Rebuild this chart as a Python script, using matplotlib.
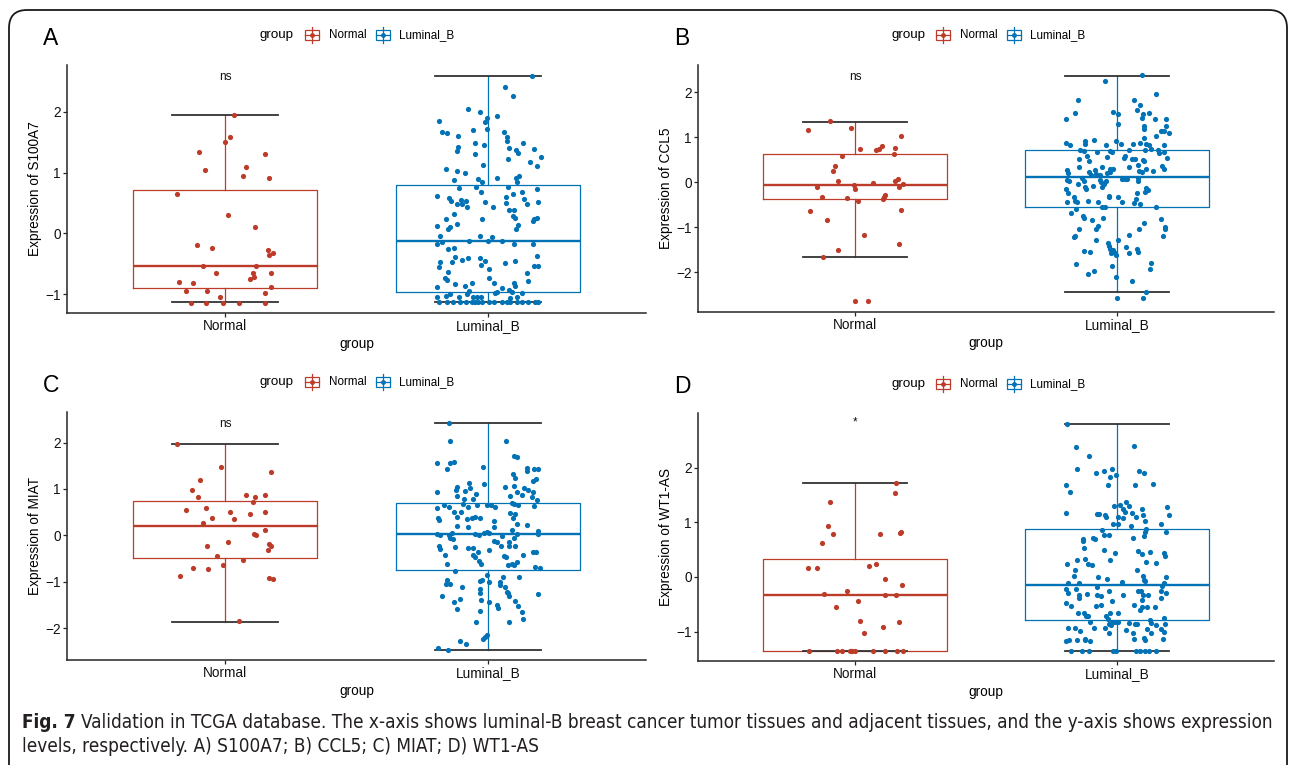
import numpy as np
import matplotlib.pyplot as plt
from matplotlib import font_manager
from matplotlib.patches import FancyBboxPatch, Rectangle
from matplotlib.lines import Line2D

plt.rcParams['font.family'] = ['Liberation Sans', 'DejaVu Sans']

W, H = 1292, 765
RED = '#BC3C29'
BLUE = '#0072B5'
INK = '#262626'

groups = ['Normal', 'Luminal_B']
genes = ['S100A7', 'CCL5', 'MIAT', 'WT1-AS']
letters = ['A', 'B', 'C', 'D']
signif = ['ns', 'ns', 'ns', '*']
signif_y = [2.57, 2.34, 2.41, 2.83]
ylims = [(-1.31, 2.77), (-2.89, 2.61), (-2.69, 2.66), (-1.54, 3.00)]
yticks = [[-1, 0, 1, 2], [-2, -1, 0, 1, 2], [-2, -1, 0, 1, 2], [-1, 0, 1, 2]]

# box stats: whislo, q1, median, q3, whishi
a_box_normal = [-1.13, -0.90, -0.54, 0.71, 1.94]
a_box_lumb = [-1.13, -0.96, -0.13, 0.80, 2.59]
b_box_normal = [-1.66, -0.38, -0.07, 0.63, 1.35]
b_box_lumb = [-2.45, -0.56, 0.12, 0.72, 2.36]
c_box_normal = [-1.86, -0.49, 0.19, 0.74, 1.96]
c_box_lumb = [-2.47, -0.75, 0.02, 0.70, 2.42]
d_box_normal = [-1.36, -1.36, -0.34, 0.33, 1.72]
d_box_lumb = [-1.35, -0.79, -0.14, 0.87, 2.79]

# jittered samples: (x jitter, expression)
a_normal = [(0.034, 1.94), (0.019, 1.59), (-0.001, 1.51), (-0.098, 1.34), (0.152, 1.31),
            (-0.075, 1.04), (0.079, 1.09), (0.067, 0.94), (0.169, 0.91), (-0.181, 0.64),
            (0.011, 0.30), (0.114, 0.10), (-0.105, -0.19), (-0.049, -0.24), (0.162, -0.27),
            (0.169, -0.36), (0.184, -0.33), (-0.085, -0.54), (0.117, -0.53), (-0.032, -0.65),
            (0.105, -0.65), (0.110, -0.72), (0.095, -0.75), (0.176, -0.66), (-0.174, -0.80),
            (-0.123, -0.82), (-0.147, -0.94), (-0.067, -0.94), (0.176, -0.88), (0.152, -0.98),
            (-0.018, -1.05), (-0.127, -1.14), (-0.071, -1.14), (-0.008, -1.14), (0.052, -1.14),
            (0.151, -1.14)]
a_lumb = [(0.167, 2.59), (0.066, 2.41), (0.094, 2.26), (-0.075, 2.04), (-0.029, 2.00),
          (0.035, 1.93), (-0.006, 1.89), (-0.011, 1.83), (-0.186, 1.85), (-0.003, 1.71),
          (-0.176, 1.67), (-0.158, 1.65), (-0.115, 1.61), (-0.058, 1.70), (0.061, 1.67),
          (0.071, 1.59), (0.072, 1.52), (-0.048, 1.48), (-0.015, 1.45), (0.132, 1.48),
          (0.080, 1.40), (-0.115, 1.42), (-0.120, 1.36), (-0.051, 1.31), (0.105, 1.37),
          (0.112, 1.33), (0.176, 1.38), (0.077, 1.23), (0.200, 1.26), (0.160, 1.17),
          (0.185, 1.11), (-0.018, 1.12), (-0.161, 1.06), (-0.119, 1.03), (-0.087, 1.00),
          (0.035, 0.91), (-0.038, 0.89), (-0.025, 0.84), (-0.128, 0.87), (0.105, 0.91),
          (0.119, 0.94), (0.109, 0.84), (-0.109, 0.75), (-0.047, 0.76), (-0.027, 0.68),
          (0.075, 0.76), (0.127, 0.68), (0.185, 0.73), (-0.193, 0.61), (-0.147, 0.59),
          (-0.142, 0.53), (-0.103, 0.55), (-0.084, 0.54), (-0.118, 0.48), (-0.098, 0.49),
          (-0.079, 0.44), (-0.013, 0.51), (0.020, 0.43), (0.068, 0.60), (0.068, 0.50),
          (0.096, 0.65), (0.137, 0.57), (0.147, 0.49), (0.189, 0.51), (0.081, 0.39),
          (0.098, 0.39), (-0.128, 0.32), (-0.160, 0.24), (-0.119, 0.16), (-0.146, 0.10),
          (-0.151, 0.08), (-0.195, 0.12), (-0.022, 0.24), (0.096, 0.29), (0.103, 0.25),
          (0.112, 0.13), (0.105, 0.08), (0.175, 0.24), (0.184, 0.26), (0.171, 0.20),
          (-0.181, -0.04), (-0.195, -0.17), (-0.177, -0.15), (-0.071, -0.13), (-0.030, -0.05),
          (0.001, -0.13), (0.015, -0.06), (0.051, -0.13), (0.100, -0.17), (0.171, -0.17),
          (-0.153, -0.26), (-0.129, -0.24), (-0.124, -0.39), (-0.139, -0.47), (-0.184, -0.47),
          (-0.188, -0.55), (-0.098, -0.44), (-0.077, -0.41), (-0.030, -0.40), (-0.027, -0.52),
          (-0.011, -0.46), (0.003, -0.58), (0.065, -0.49), (0.104, -0.46), (0.184, -0.38),
          (0.174, -0.54), (0.190, -0.54), (-0.153, -0.63), (-0.162, -0.74), (-0.156, -0.76),
          (0.148, -0.65), (0.005, -0.74), (0.024, -0.82), (-0.125, -0.84), (-0.194, -0.88),
          (-0.089, -0.87), (-0.060, -0.81), (-0.072, -0.95), (0.054, -0.90), (0.100, -0.81),
          (0.103, -0.87), (0.080, -0.93), (0.151, -0.78), (0.028, -0.98), (0.035, -0.97),
          (0.091, -0.97), (0.129, -0.98), (-0.196, -1.04), (-0.160, -1.03), (-0.146, -0.99),
          (-0.112, -1.04), (-0.079, -1.00), (-0.056, -1.05), (-0.041, -1.05), (-0.027, -1.05),
          (0.084, -1.06), (0.108, -1.05), (-0.185, -1.13), (-0.155, -1.13), (-0.133, -1.13),
          (-0.106, -1.13), (-0.063, -1.13), (-0.051, -1.13), (-0.038, -1.13), (-0.022, -1.13),
          (0.003, -1.13), (0.023, -1.13), (0.053, -1.13), (0.070, -1.13), (0.085, -1.13),
          (0.108, -1.13), (0.129, -1.13), (0.152, -1.13), (0.179, -1.13), (0.191, -1.13),
          (-0.084, -1.13)]

b_normal = [(-0.097, 1.36), (-0.179, 1.17), (-0.015, 1.20), (0.176, 1.04), (0.019, 0.74),
            (0.078, 0.71), (0.090, 0.73), (0.104, 0.81), (0.153, 0.76), (-0.050, 0.59),
            (0.150, 0.62), (-0.075, 0.36), (-0.083, 0.24), (-0.067, 0.02), (0.153, 0.03),
            (0.162, 0.07), (-0.146, -0.11), (-0.006, -0.07), (-0.001, -0.15), (0.070, -0.01),
            (0.168, -0.10), (0.182, -0.05), (-0.126, -0.33), (-0.032, -0.36), (0.011, -0.42),
            (0.108, -0.37), (0.115, -0.28), (0.111, -0.33), (-0.172, -0.65), (0.176, -0.62),
            (-0.106, -0.85), (0.034, -1.18), (0.168, -1.37), (-0.065, -1.51), (-0.121, -1.67),
            (-0.001, -2.64), (0.050, -2.64)]
b_lumb = [(0.095, 2.38), (-0.047, 2.26), (0.148, 1.96), (-0.149, 1.83), (0.066, 1.83),
          (0.089, 1.71), (-0.193, 1.41), (-0.159, 1.54), (-0.015, 1.57), (0.003, 1.52),
          (0.004, 1.30), (0.078, 1.60), (0.101, 1.51), (0.123, 1.54), (0.097, 1.43),
          (0.103, 1.26), (0.103, 1.19), (0.145, 1.40), (0.187, 1.41), (0.188, 1.26),
          (0.170, 1.14), (0.181, 1.15), (0.200, 1.10), (0.104, 0.99), (0.151, 1.02),
          (-0.195, 0.87), (-0.178, 0.83), (-0.120, 0.91), (-0.122, 0.84), (-0.089, 0.94),
          (-0.005, 0.91), (0.014, 0.85), (-0.042, 0.83), (0.062, 0.84), (0.089, 0.87),
          (0.111, 0.86), (0.122, 0.82), (0.179, 0.83), (-0.142, 0.71), (-0.126, 0.70),
          (-0.076, 0.68), (-0.027, 0.69), (-0.018, 0.67), (0.048, 0.71), (0.107, 0.71),
          (0.131, 0.74), (0.156, 0.72), (0.162, 0.64), (0.181, 0.67), (-0.146, 0.52),
          (-0.114, 0.58), (-0.107, 0.48), (-0.036, 0.56), (0.028, 0.54), (0.032, 0.58),
          (0.057, 0.51), (0.071, 0.51), (0.101, 0.49), (0.104, 0.47), (0.190, 0.53),
          (-0.146, 0.33), (-0.057, 0.34), (-0.084, 0.28), (-0.028, 0.30), (-0.014, 0.29),
          (0.045, 0.33), (0.080, 0.38), (0.111, 0.30), (0.139, 0.26), (0.173, 0.36),
          (0.178, 0.30), (-0.190, 0.27), (-0.188, 0.20), (-0.108, 0.22), (-0.065, 0.16),
          (-0.079, 0.19), (-0.037, 0.21), (-0.027, 0.23), (0.085, 0.25), (0.097, 0.22),
          (-0.191, 0.05), (-0.183, 0.02), (-0.132, 0.10), (-0.127, 0.02), (-0.099, 0.16),
          (-0.064, 0.04), (-0.059, 0.00), (-0.043, 0.03), (0.018, 0.08), (0.031, 0.07),
          (0.037, 0.08), (0.079, 0.09), (0.080, 0.02), (-0.150, -0.05), (-0.123, -0.10),
          (-0.092, -0.09), (-0.057, -0.10), (-0.048, -0.05), (-0.196, -0.16), (-0.186, -0.23),
          (-0.162, -0.33), (-0.159, -0.41), (-0.117, -0.15), (-0.111, -0.41), (-0.074, -0.45),
          (-0.029, -0.30), (-0.029, -0.34), (0.004, -0.32), (0.020, -0.45), (0.111, -0.13),
          (0.120, -0.17), (0.107, -0.21), (0.078, -0.25), (0.074, -0.37), (0.066, -0.47),
          (0.090, -0.48), (-0.191, -0.45), (-0.154, -0.45), (-0.156, -0.59), (-0.177, -0.68),
          (-0.057, -0.56), (-0.047, -0.56), (0.148, -0.55), (-0.129, -0.76), (-0.126, -0.80),
          (-0.097, -0.85), (-0.053, -0.79), (-0.071, -0.97), (-0.079, -1.04), (-0.144, -1.04),
          (-0.164, -1.23), (-0.159, -1.20), (-0.081, -1.28), (0.006, -1.28), (-0.034, -1.36),
          (-0.030, -1.41), (-0.025, -1.48), (-0.015, -1.51), (-0.009, -1.57), (-0.022, -1.57),
          (-0.005, -1.63), (0.034, -1.45), (0.046, -1.57), (0.075, -1.49), (0.079, -1.56),
          (0.103, -0.91), (0.084, -1.05), (0.046, -1.18), (0.167, -0.83), (0.183, -0.99),
          (0.185, -1.04), (0.177, -1.20), (-0.127, -1.54), (-0.103, -1.56), (-0.155, -1.83),
          (-0.109, -2.05), (-0.089, -1.98), (-0.019, -1.86), (-0.003, -2.10), (0.057, -2.21),
          (0.130, -1.80), (0.127, -1.94), (0.112, -2.45), (0.000, -2.57), (0.099, -2.57)]

c_normal = [(-0.182, 1.96), (-0.016, 1.48), (-0.096, 1.20), (0.177, 1.36), (-0.124, 0.97),
            (-0.104, 0.83), (0.081, 0.87), (0.116, 0.83), (0.154, 0.87), (0.106, 0.72),
            (-0.146, 0.55), (-0.073, 0.58), (0.020, 0.50), (0.096, 0.46), (0.154, 0.50),
            (-0.050, 0.38), (0.036, 0.35), (-0.084, 0.26), (0.110, 0.03), (0.118, 0.01),
            (0.152, 0.11), (-0.068, -0.24), (0.012, -0.14), (0.169, -0.19), (0.175, -0.24),
            (0.165, -0.31), (-0.030, -0.45), (0.068, -0.54), (-0.006, -0.64), (-0.121, -0.71),
            (-0.065, -0.73), (-0.172, -0.87), (0.168, -0.93), (0.183, -0.95), (0.053, -1.85)]
c_lumb = [(-0.150, 2.42), (-0.146, 2.04), (0.068, 2.04), (0.099, 1.71), (0.108, 1.68),
          (-0.194, 1.57), (-0.144, 1.56), (-0.131, 1.58), (-0.158, 1.44), (-0.019, 1.47),
          (0.146, 1.45), (0.148, 1.38), (0.174, 1.44), (0.190, 1.42), (0.094, 1.32),
          (0.104, 1.23), (0.169, 1.17), (0.181, 1.21), (-0.074, 1.13), (-0.014, 1.11),
          (-0.117, 1.04), (0.066, 1.05), (0.097, 1.07), (0.137, 1.03), (-0.195, 0.93),
          (-0.123, 0.97), (-0.089, 0.96), (-0.070, 1.02), (0.109, 0.94), (0.150, 0.98),
          (0.172, 0.94), (-0.120, 0.84), (-0.092, 0.78), (-0.046, 0.89), (-0.058, 0.78),
          (0.085, 0.85), (0.127, 0.86), (0.166, 0.82), (0.185, 0.76), (-0.166, 0.66),
          (-0.150, 0.61), (-0.194, 0.59), (-0.096, 0.68), (-0.077, 0.60), (-0.041, 0.65),
          (-0.004, 0.65), (0.011, 0.65), (0.027, 0.61), (0.090, 0.70), (0.100, 0.68),
          (0.115, 0.66), (0.174, 0.63), (-0.129, 0.51), (-0.104, 0.50), (-0.190, 0.37),
          (-0.186, 0.32), (-0.120, 0.40), (-0.079, 0.35), (-0.061, 0.38), (-0.048, 0.40),
          (-0.029, 0.37), (0.084, 0.48), (0.101, 0.46), (0.095, 0.37), (0.023, 0.30),
          (-0.119, 0.21), (-0.075, 0.18), (0.108, 0.24), (0.149, 0.22), (-0.195, 0.02),
          (-0.181, 0.01), (-0.148, 0.01), (-0.139, 0.04), (-0.048, 0.02), (-0.034, 0.01),
          (-0.014, 0.06), (-0.006, 0.08), (0.005, 0.06), (0.023, 0.17), (0.053, -0.01),
          (0.090, 0.11), (0.108, 0.02), (0.190, 0.09), (0.189, 0.02), (-0.146, -0.06),
          (-0.133, -0.07), (-0.127, -0.26), (-0.186, -0.23), (-0.181, -0.30), (-0.077, -0.27),
          (-0.058, -0.28), (-0.037, -0.35), (0.005, -0.32), (0.021, -0.13), (0.032, -0.14),
          (0.049, -0.22), (0.079, -0.22), (0.081, -0.14), (0.103, -0.23), (0.098, -0.06),
          (0.132, -0.42), (0.172, -0.35), (0.181, -0.37), (-0.162, -0.43), (-0.056, -0.43),
          (-0.048, -0.46), (-0.033, -0.55), (-0.027, -0.61), (0.060, -0.45), (0.068, -0.46),
          (0.077, -0.64), (0.090, -0.61), (0.100, -0.63), (0.108, -0.57), (-0.155, -0.61),
          (0.179, -0.68), (0.198, -0.71), (-0.127, -0.77), (-0.156, -0.96), (-0.161, -1.06),
          (-0.146, -1.04), (-0.101, -1.12), (-0.029, -0.99), (-0.022, -0.96), (-0.032, -1.16),
          (-0.005, -0.86), (0.004, -1.01), (0.046, -1.00), (0.057, -0.91), (0.044, -1.07),
          (0.063, -1.11), (0.070, -1.22), (0.077, -1.25), (0.079, -1.31), (0.119, -0.91),
          (0.189, -1.27), (-0.177, -1.31), (-0.128, -1.43), (-0.108, -1.37), (-0.117, -1.60),
          (-0.029, -1.25), (-0.028, -1.40), (0.004, -1.43), (0.033, -1.50), (0.036, -1.56),
          (0.103, -1.41), (0.113, -1.53), (0.130, -1.65), (0.132, -1.80), (-0.030, -1.64),
          (-0.047, -1.87), (0.080, -1.87), (-0.019, -2.24), (-0.013, -2.19), (-0.006, -2.15),
          (-0.108, -2.27), (-0.085, -2.35), (-0.191, -2.43), (-0.152, -2.48)]

d_normal = [(0.155, 1.72), (0.152, 1.54), (-0.097, 1.37), (-0.105, 0.93), (-0.083, 0.78),
            (0.096, 0.79), (0.171, 0.80), (0.177, 0.83), (-0.126, 0.62), (-0.180, 0.16),
            (-0.145, 0.16), (0.053, 0.20), (0.080, 0.24), (0.116, -0.04), (0.179, -0.15),
            (-0.120, -0.31), (-0.030, -0.26), (0.113, -0.34), (0.155, -0.34), (0.011, -0.45),
            (-0.073, -0.56), (0.019, -0.80), (0.167, -0.83), (0.108, -0.92), (0.035, -1.02),
            (-0.175, -1.36), (-0.069, -1.36), (-0.049, -1.36), (-0.018, -1.36), (-0.010, -1.36),
            (-0.002, -1.36), (0.069, -1.36), (0.115, -1.36), (0.161, -1.36), (0.182, -1.36)]
d_lumb = [(-0.191, 2.79), (-0.155, 2.37), (0.066, 2.39), (-0.106, 2.21), (-0.154, 1.97),
          (-0.079, 1.91), (-0.048, 1.94), (-0.019, 1.97), (-0.028, 1.83), (-0.003, 1.87),
          (0.084, 1.94), (0.103, 1.91), (-0.195, 1.69), (-0.181, 1.56), (-0.034, 1.68),
          (0.070, 1.69), (0.136, 1.70), (-0.193, 1.17), (-0.013, 1.30), (0.013, 1.31),
          (0.023, 1.25), (0.036, 1.37), (0.045, 1.30), (0.029, 1.19), (0.057, 1.17),
          (0.074, 1.09), (0.097, 1.24), (0.100, 1.14), (0.106, 1.02), (-0.076, 1.15),
          (-0.067, 1.15), (-0.047, 1.13), (-0.041, 1.09), (0.004, 1.09), (0.024, 1.08),
          (-0.015, 0.96), (0.005, 0.96), (0.052, 0.93), (0.112, 0.87), (0.169, 0.96),
          (0.190, 1.28), (0.200, 1.13), (-0.057, 0.85), (-0.050, 0.76), (-0.031, 0.77),
          (-0.130, 0.70), (-0.129, 0.66), (-0.092, 0.72), (-0.084, 0.69), (0.060, 0.72),
          (0.103, 0.75), (0.106, 0.83), (0.188, 0.83), (-0.125, 0.52), (-0.050, 0.49),
          (-0.008, 0.44), (0.079, 0.48), (0.094, 0.41), (0.128, 0.45), (0.179, 0.44),
          (0.182, 0.38), (0.112, 0.28), (0.149, 0.26), (-0.025, 0.31), (-0.191, 0.24),
          (-0.153, 0.30), (-0.120, 0.32), (-0.112, 0.23), (-0.097, 0.22), (-0.160, 0.13),
          (0.075, 0.12), (-0.164, 0.02), (-0.071, 0.00), (-0.037, -0.03), (0.101, 0.01),
          (0.103, -0.05), (0.108, -0.08), (0.187, 0.00), (-0.186, -0.12), (-0.145, -0.12),
          (0.020, -0.10), (0.179, -0.12), (0.172, -0.17), (-0.196, -0.22), (-0.188, -0.29),
          (-0.158, -0.22), (-0.146, -0.34), (-0.144, -0.39), (-0.116, -0.31), (-0.075, -0.19),
          (-0.075, -0.34), (-0.059, -0.35), (-0.029, -0.25), (-0.017, -0.44), (0.024, -0.33),
          (0.080, -0.25), (0.093, -0.26), (0.098, -0.34), (0.094, -0.42), (0.117, -0.33),
          (0.169, -0.26), (0.187, -0.29), (0.167, -0.38), (-0.196, -0.47), (-0.176, -0.53),
          (-0.078, -0.53), (-0.059, -0.52), (0.066, -0.52), (0.087, -0.61), (0.097, -0.55),
          (0.116, -0.55), (0.146, -0.55), (-0.150, -0.67), (-0.125, -0.67), (-0.118, -0.72),
          (-0.111, -0.71), (-0.101, -0.82), (-0.041, -0.72), (-0.025, -0.66), (-0.034, -0.77),
          (-0.018, -0.82), (-0.009, -0.82), (0.005, -0.67), (0.004, -0.82), (-0.022, -0.88),
          (-0.031, -0.87), (0.181, -0.75), (0.183, -0.86), (0.128, -0.79), (0.132, -0.84),
          (0.151, -0.88), (0.170, -0.95), (0.181, -1.00), (0.046, -0.85), (0.070, -0.87),
          (0.078, -0.87), (0.036, -0.98), (0.116, -0.96), (-0.187, -0.93), (-0.160, -0.93),
          (-0.141, -0.99), (-0.088, -0.94), (-0.047, -0.93), (-0.032, -1.02), (0.061, -1.02),
          (0.132, -1.03), (-0.193, -1.17), (-0.183, -1.15), (-0.154, -1.15), (-0.121, -1.13),
          (-0.120, -1.16), (-0.103, -1.17), (0.065, -1.13), (0.102, -1.12), (0.108, -1.15),
          (0.177, -1.14), (-0.176, -1.35), (-0.132, -1.35), (-0.107, -1.35), (-0.015, -1.35),
          (-0.003, -1.35), (0.074, -1.35), (0.090, -1.35), (0.109, -1.35), (0.121, -1.35),
          (0.150, -1.35)]

panels = [
    (a_normal, a_lumb, a_box_normal, a_box_lumb),
    (b_normal, b_lumb, b_box_normal, b_box_lumb),
    (c_normal, c_lumb, c_box_normal, c_box_lumb),
    (d_normal, d_lumb, d_box_normal, d_box_lumb),
]
# axes frames in pixels: left, top, right, bottom
frames = [(67, 65, 646, 313), (698, 65, 1274, 312), (67, 412, 646, 660), (698, 413, 1274, 661)]
legend_y = [35, 35, 382, 384]


def fx(x):
    return x / W


def fy(y):
    return 1 - y / H


fig = plt.figure(figsize=(W / 100, H / 100), dpi=100)

for k in range(4):
    l, t, r, b = frames[k]
    ax = fig.add_axes([fx(l), fy(b), (r - l) / W, (b - t) / H])
    normal, lumb, bn, bl = panels[k]
    stats = []
    for s, lab in zip([bn, bl], groups):
        stats.append(dict(whislo=s[0], q1=s[1], med=s[2], q3=s[3], whishi=s[4], fliers=[], label=lab))
    for i, (st, col) in enumerate(zip(stats, [RED, BLUE])):
        ax.bxp([st], positions=[i + 1], widths=0.7, capwidths=0.4, showfliers=False,
               boxprops=dict(color=col, lw=0.9),
               medianprops=dict(color=col, lw=1.7),
               whiskerprops=dict(color=col, lw=0.9),
               capprops=dict(color='#333333', lw=1.3))
    for i, (pts, col) in enumerate(zip([normal, lumb], [RED, BLUE])):
        arr = np.array(pts)
        ax.scatter(i + 1 + arr[:, 0], arr[:, 1], s=14, color=col, lw=0, zorder=3)

    ax.text(1, signif_y[k], signif[k], ha='center', va='center', fontsize=8.6, color='#111111')
    ax.set_xlim(0.4, 2.6)
    ax.set_ylim(*ylims[k])
    ax.set_xticks([1, 2])
    ax.set_xticklabels(groups)
    ax.set_yticks(yticks[k])
    ax.set_xlabel('group', fontsize=9.8, labelpad=3)
    ax.set_ylabel('Expression of ' + genes[k], fontsize=9.8, labelpad=2)
    for sp in ['top', 'right']:
        ax.spines[sp].set_visible(False)
    for sp in ['left', 'bottom']:
        ax.spines[sp].set_color(INK)
        ax.spines[sp].set_linewidth(1.1)
    ax.tick_params(length=3, width=0.9, color=INK, labelsize=9.8, labelcolor='#111111', pad=1.5)

    # panel letter
    fig.text(fx(l - 24), fy(t - 20), letters[k], fontsize=16.5, ha='left', va='baseline')

    # legend in ggplot style
    yc = legend_y[k]
    fig.text(fx(l + 193), fy(yc), 'group', fontsize=9.6, ha='left', va='center')
    for j, (lab, col) in enumerate(zip(groups, [RED, BLUE])):
        kx = l + [245, 316][j]
        fig.add_artist(Rectangle((fx(kx - 7), fy(yc + 5)), 14 / W, 10 / H, fill=False,
                                 ec=col, lw=0.9))
        fig.add_artist(Line2D([fx(kx), fx(kx)], [fy(yc + 8), fy(yc - 8)], color=col, lw=0.9))
        fig.add_artist(Line2D([fx(kx - 7), fx(kx + 7)], [fy(yc), fy(yc)], color=col, lw=0.9))
        fig.add_artist(Line2D([fx(kx)], [fy(yc)], marker='o', ms=3.5, color=col, mec='none'))
        fig.text(fx(l + [262, 332][j]), fy(yc), lab, fontsize=8.4, ha='left', va='center')

# outer rounded frame
frame = FancyBboxPatch((0.09, -0.3), 12.78, 7.85, boxstyle='round,pad=0,rounding_size=0.18',
                       transform=fig.dpi_scale_trans, fill=False, ec='#1a1a1a', lw=1.3)
fig.add_artist(frame)

# caption, in a condensed face when one is installed
cond = [f for f in font_manager.fontManager.ttflist
        if f.name == 'DejaVu Sans' and str(f.stretch) in ('condensed', '400', 'semi-condensed')]
cap_kw = dict(family='DejaVu Sans', fontstretch='condensed') if cond else dict(family='Open Sans')
line1 = ('Validation in TCGA database. The x-axis shows luminal-B breast cancer tumor tissues '
         'and adjacent tissues, and the y-axis shows expression')
line2 = 'levels, respectively. A) S100A7; B) CCL5; C) MIAT; D) WT1-AS'

fs = 12.5
t0 = fig.text(fx(22), fy(722), 'Fig. 7', fontsize=fs, fontweight='bold',
              ha='left', va='center', color='#231f20', **cap_kw)
t1 = fig.text(0, fy(722), line1, fontsize=fs, ha='left', va='center', color='#231f20', **cap_kw)
t2 = fig.text(fx(22), fy(747), line2, fontsize=fs, ha='left', va='center', color='#231f20', **cap_kw)
rend = fig.canvas.get_renderer()
gap = 5
for _ in range(3):
    fig.canvas.draw()
    w0 = t0.get_window_extent(rend).width
    w1 = t1.get_window_extent(rend).width
    fs = fs * (1271 - 22 - gap) / (w0 + w1)
    for t in (t0, t1, t2):
        t.set_fontsize(fs)
fig.canvas.draw()
w0 = t0.get_window_extent(rend).width
t1.set_x(fx(22 + w0 + gap))

fig.savefig('out.png', dpi=100)
